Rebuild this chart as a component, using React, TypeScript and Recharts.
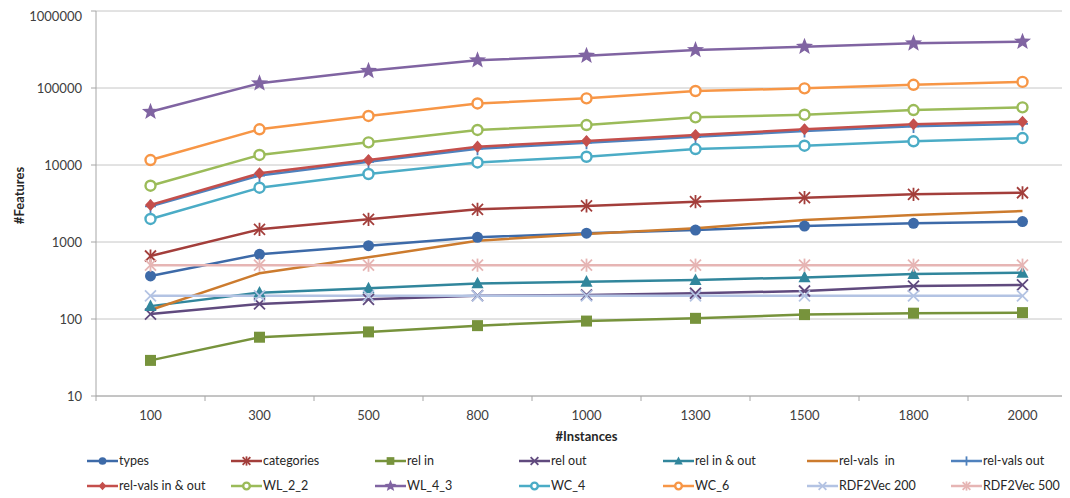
import React from "react";
import { LineChart, Line, XAxis, YAxis, CartesianGrid, Legend, Label } from "recharts";

const instances = ["100", "300", "500", "800", "1000", "1300", "1500", "1800", "2000"];

const types = [362, 692, 895, 1150, 1300, 1430, 1610, 1750, 1840];
const categories = [658, 1460, 1970, 2660, 2940, 3340, 3760, 4160, 4360];
const relIn = [29, 58, 68, 82, 94, 102, 114, 119, 121];
const relOut = [116, 157, 180, 201, 205, 216, 231, 268, 277];
const relInOut = [147, 220, 250, 290, 305, 321, 347, 384, 399];
const relValsIn = [131, 392, 632, 1040, 1270, 1510, 1930, 2240, 2530];
const relValsOut = [2900, 7300, 11000, 16300, 19500, 23200, 27700, 31800, 34200];
const relValsInOut = [3020, 7800, 11600, 17300, 20500, 24500, 29100, 33800, 36500];
const wl22 = [5380, 13500, 19700, 28500, 33000, 41600, 45000, 51700, 56100];
const wl43 = [49200, 115000, 167000, 229000, 263000, 312000, 344000, 380000, 400000];
const wc4 = [1990, 5070, 7640, 10800, 12800, 16100, 17800, 20300, 22400];
const wc6 = [11600, 29100, 43300, 63000, 73400, 91400, 99000, 110000, 120000];
const rdf200 = [200, 200, 200, 200, 200, 200, 200, 200, 200];
const rdf500 = [500, 500, 500, 500, 500, 500, 500, 500, 500];

const yTicks = [10, 100, 1000, 10000, 100000, 1000000];

type Marker = "circle" | "asterisk" | "square" | "x" | "triangle" | "none" | "plus" | "diamond" | "hollow" | "star";

const series: { name: string; values: number[]; color: string; marker: Marker }[] = [
  { name: "types", values: types, color: "#3d6aa8", marker: "circle" },
  { name: "categories", values: categories, color: "#a33e3b", marker: "asterisk" },
  { name: "rel in", values: relIn, color: "#77933c", marker: "square" },
  { name: "rel out", values: relOut, color: "#604a7e", marker: "x" },
  { name: "rel in & out", values: relInOut, color: "#31869c", marker: "triangle" },
  { name: "rel-vals  in", values: relValsIn, color: "#cc7b2e", marker: "none" },
  { name: "rel-vals out", values: relValsOut, color: "#4f81bd", marker: "plus" },
  { name: "rel-vals in & out", values: relValsInOut, color: "#c44f4c", marker: "diamond" },
  { name: "WL_2_2", values: wl22, color: "#9bbb59", marker: "hollow" },
  { name: "WL_4_3", values: wl43, color: "#8064a2", marker: "star" },
  { name: "WC_4", values: wc4, color: "#4bacc6", marker: "hollow" },
  { name: "WC_6", values: wc6, color: "#f79646", marker: "hollow" },
  { name: "RDF2Vec 200", values: rdf200, color: "#b3c3e3", marker: "x" },
  { name: "RDF2Vec 500", values: rdf500, color: "#e6b5b4", marker: "asterisk" },
];

const data = instances.map((inst, i) => {
  const row: Record<string, string | number> = { inst };
  series.forEach((s) => {
    row[s.name] = s.values[i];
  });
  return row;
});

const FONT = "Lato, 'Open Sans', sans-serif";
const BW = 109;

function drawMarker(kind: Marker, color: string, cx: number, cy: number, k = 1, key?: React.Key) {
  const r = 5.5 * k;
  switch (kind) {
    case "circle":
      return <circle key={key} cx={cx} cy={cy} r={r} fill={color} />;
    case "hollow":
      return <circle key={key} cx={cx} cy={cy} r={r - 0.5} fill="#fff" stroke={color} strokeWidth={2.4} />;
    case "square":
      return <rect key={key} x={cx - r} y={cy - r} width={2 * r} height={2 * r} fill={color} />;
    case "triangle":
      return (
        <polygon key={key} points={`${cx},${cy - r * 1.2} ${cx + r * 1.1},${cy + r * 0.9} ${cx - r * 1.1},${cy + r * 0.9}`} fill={color} />
      );
    case "diamond":
      return <polygon key={key} points={`${cx},${cy - r * 1.1} ${cx + r},${cy} ${cx},${cy + r * 1.1} ${cx - r},${cy}`} fill={color} />;
    case "star": {
      const pts: string[] = [];
      for (let j = 0; j < 10; j++) {
        const rad = j % 2 === 0 ? 9 * k : 3.8 * k;
        const a = -Math.PI / 2 + (j * Math.PI) / 5;
        pts.push(`${cx + rad * Math.cos(a)},${cy + rad * Math.sin(a)}`);
      }
      return <polygon key={key} points={pts.join(" ")} fill={color} />;
    }
    case "x":
      return (
        <g key={key} stroke={color} strokeWidth={1.8}>
          <line x1={cx - r} y1={cy - r} x2={cx + r} y2={cy + r} />
          <line x1={cx - r} y1={cy + r} x2={cx + r} y2={cy - r} />
        </g>
      );
    case "asterisk":
      return (
        <g key={key} stroke={color} strokeWidth={1.8}>
          <line x1={cx - r} y1={cy - r} x2={cx + r} y2={cy + r} />
          <line x1={cx - r} y1={cy + r} x2={cx + r} y2={cy - r} />
          <line x1={cx} y1={cy - r * 1.2} x2={cx} y2={cy + r * 1.2} />
        </g>
      );
    case "plus":
      return (
        <g key={key} stroke={color} strokeWidth={1.8}>
          <line x1={cx} y1={cy - r * 1.2} x2={cx} y2={cy + r * 1.2} />
          <line x1={cx - r} y1={cy} x2={cx + r} y2={cy} />
        </g>
      );
    default:
      return <g key={key} />;
  }
}

function XTick(props: any) {
  const { x, y, payload } = props;
  const last = payload.value === instances[instances.length - 1];
  return (
    <g>
      <line x1={x - BW / 2} x2={x - BW / 2} y1={y} y2={y + 5} stroke="#a6a6a6" />
      {last && <line x1={x + BW / 2} x2={x + BW / 2} y1={y} y2={y + 5} stroke="#a6a6a6" />}
      <text x={x} y={y + 19} textAnchor="middle" dominantBaseline="central" fontSize={13} fill="#404040" fontFamily={FONT}>
        {payload.value}
      </text>
    </g>
  );
}

function renderLegend() {
  return (
    <div
      style={{
        height: 54,
        paddingLeft: 79,
        paddingTop: 4,
        boxSizing: "border-box",
        display: "grid",
        gridTemplateColumns: "repeat(7, 144px)",
        gridAutoRows: "25px",
        fontFamily: FONT,
        fontSize: 12.5,
        color: "#262626",
      }}
    >
      {series.map((s) => (
        <div key={s.name} style={{ display: "flex", alignItems: "center", whiteSpace: "pre" }}>
          <svg width={31} height={14} style={{ marginRight: 1 }}>
            <line x1={0} x2={31} y1={7} y2={7} stroke={s.color} strokeWidth={2.5} />
            {drawMarker(s.marker, s.color, 15.5, 7, 0.7)}
          </svg>
          <span>{s.name}</span>
        </div>
      ))}
    </div>
  );
}

export default function App() {
  return (
    <div style={{ width: 1062, overflow: "hidden" }}>
      <LineChart width={1072} height={490} data={data} margin={{ top: 3, right: 3, left: 0, bottom: 0 }}>
        <CartesianGrid vertical={false} stroke="#c6c6c6" strokeWidth={1} />
        <XAxis
          dataKey="inst"
          height={48}
          tickLine={false}
          tickSize={0}
          tickMargin={0}
          tick={<XTick />}
          interval={0}
          padding={{ left: BW / 2, right: BW / 2 }}
          stroke="#a6a6a6"
        >
          <Label
            value="#Instances"
            position="insideBottom"
            offset={3}
            style={{ fontFamily: FONT, fontSize: 13, fontWeight: 700, fill: "#262626" }}
          />
        </XAxis>
        <YAxis
          type="number"
          scale="log"
          domain={[10, 1000000]}
          ticks={yTicks}
          allowDataOverflow
          width={88}
          tickSize={5}
          tickMargin={9}
          stroke="#a6a6a6"
          tick={{ fontFamily: FONT, fontSize: 13, fill: "#404040" }}
          tickFormatter={(v: number) => String(v)}
        >
          <Label
            content={(p: any) => {
              const vb = p.viewBox;
              return (
                <text
                  transform={`translate(${vb.x + 11}, ${vb.y + vb.height / 2 - 8}) rotate(-90)`}
                  textAnchor="middle"
                  dominantBaseline="central"
                  fontFamily={FONT}
                  fontSize={13}
                  fontWeight={700}
                  fill="#262626"
                >
                  #Features
                </text>
              );
            }}
          />
        </YAxis>
        <Legend verticalAlign="bottom" content={renderLegend} wrapperStyle={{ left: 0, width: 1072, height: 54 }} />
        {series.map((s) => (
          <Line
            key={s.name}
            dataKey={s.name}
            stroke={s.color}
            strokeWidth={2.5}
            isAnimationActive={false}
            dot={
              s.marker === "none"
                ? false
                : (p: any) => drawMarker(s.marker, s.color, p.cx, p.cy, 1, `${s.name}-${p.index}`)
            }
            activeDot={false}
          />
        ))}
      </LineChart>
    </div>
  );
}
